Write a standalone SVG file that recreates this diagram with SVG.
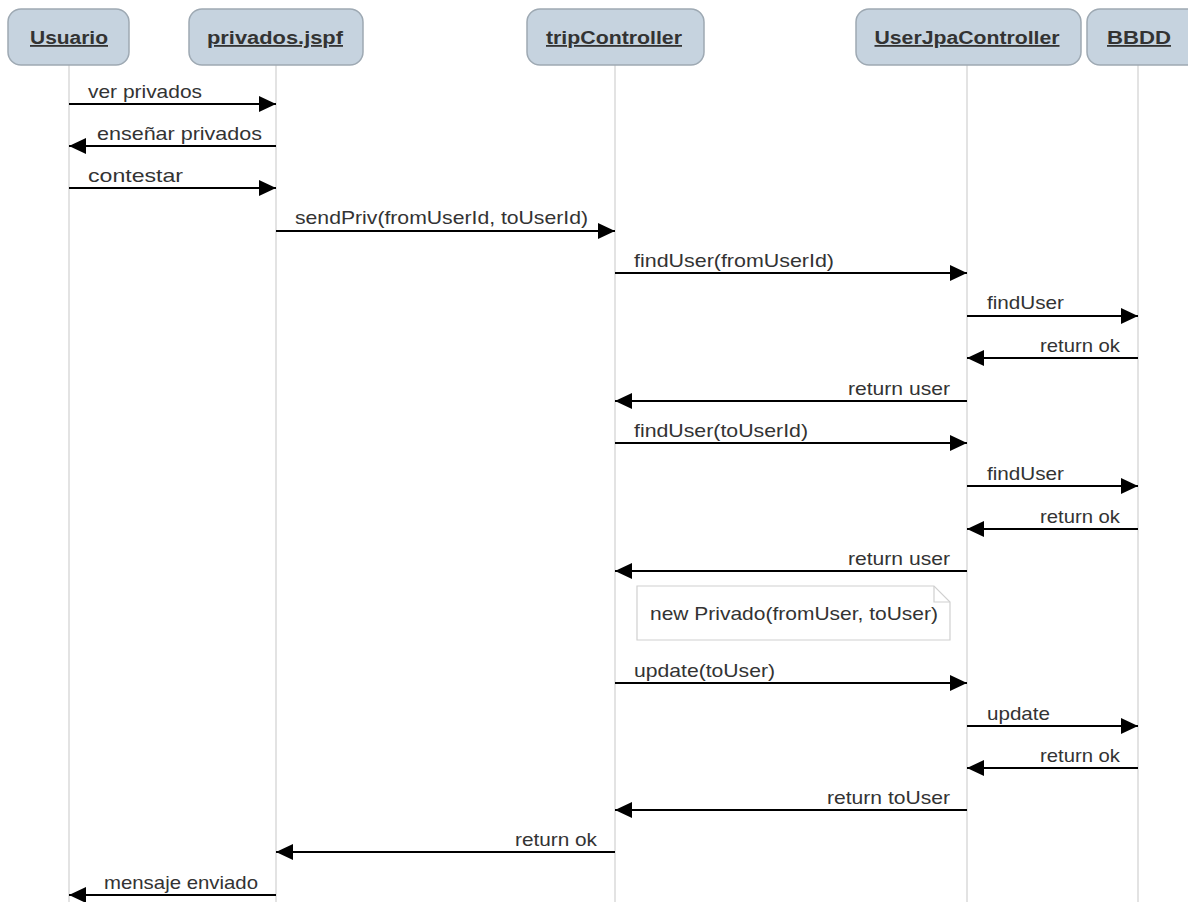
<svg xmlns="http://www.w3.org/2000/svg" width="1188" height="902" viewBox="0 0 1188 902">
<defs>
<marker id="ah" viewBox="0 0 17 16" refX="17" refY="8" markerWidth="17" markerHeight="16" markerUnits="userSpaceOnUse" orient="auto">
<path d="M0,0 L17,8 L0,16 Z" fill="#000"/>
</marker>
<style>
.hdr{fill:#c6d3df;stroke:#9ea9b3;stroke-width:1.5}
.ht{font-family:"Liberation Sans",Arial,sans-serif;font-size:18px;font-weight:bold;fill:#333;text-decoration:underline;text-anchor:middle}
.ll{stroke:#d0d0d0;stroke-width:1.2;fill:none}
.msg{stroke:#000;stroke-width:2;fill:none;marker-end:url(#ah)}
.t{font-family:"Liberation Sans",Arial,sans-serif;font-size:18.5px;fill:#333}
.r{text-anchor:end}
.note{fill:#fff;stroke:#d0d0d0;stroke-width:1.2}
</style>
</defs>
<rect width="1188" height="902" fill="#fff"/>
<g id="lifelines">
<line class="ll" x1="69" y1="65" x2="69" y2="902"/>
<line class="ll" x1="276" y1="65" x2="276" y2="902"/>
<line class="ll" x1="615" y1="65" x2="615" y2="902"/>
<line class="ll" x1="967" y1="65" x2="967" y2="902"/>
<line class="ll" x1="1138" y1="65" x2="1138" y2="902"/>
</g>
<g id="usuario"><rect class="hdr" x="8" y="9" width="121" height="56" rx="13"/><text class="ht" x="69" y="44" textLength="78" lengthAdjust="spacingAndGlyphs">Usuario</text></g>
<g id="privados"><rect class="hdr" x="189" y="9" width="174" height="56" rx="13"/><text class="ht" x="275" y="44" textLength="136" lengthAdjust="spacingAndGlyphs">privados.jspf</text></g>
<g id="tripController"><rect class="hdr" x="527" y="9" width="177" height="56" rx="13"/><text class="ht" x="614" y="44" textLength="136" lengthAdjust="spacingAndGlyphs">tripController</text></g>
<g id="userJpaController"><rect class="hdr" x="856" y="9" width="225" height="56" rx="13"/><text class="ht" x="967" y="44" textLength="185" lengthAdjust="spacingAndGlyphs">UserJpaController</text></g>
<g id="bbdd"><rect class="hdr" x="1087" y="9" width="115" height="56" rx="13"/><text class="ht" x="1139" y="44" textLength="64" lengthAdjust="spacingAndGlyphs">BBDD</text></g>
<g id="note"><path class="note" d="M637,586 H934 L950,602 V640 H637 Z"/><path d="M934,586 V602 H950" fill="none" stroke="#d0d0d0" stroke-width="1.2"/><text class="t" x="650" y="620" textLength="288" lengthAdjust="spacingAndGlyphs">new Privado(fromUser, toUser)</text></g>
<g id="connectors">
<line class="msg" x1="69" y1="104" x2="276" y2="104"/><text class="t" x="88" y="98" textLength="114" lengthAdjust="spacingAndGlyphs">ver privados</text>
<line class="msg" x1="276" y1="146" x2="69" y2="146"/><text class="t r" x="262" y="140" textLength="165" lengthAdjust="spacingAndGlyphs">enseñar privados</text>
<line class="msg" x1="69" y1="188" x2="276" y2="188"/><text class="t" x="88" y="182" textLength="95" lengthAdjust="spacingAndGlyphs">contestar</text>
<line class="msg" x1="276" y1="231" x2="615" y2="231"/><text class="t" x="295" y="224" textLength="293" lengthAdjust="spacingAndGlyphs">sendPriv(fromUserId, toUserId)</text>
<line class="msg" x1="615" y1="273" x2="967" y2="273"/><text class="t" x="634" y="267" textLength="200" lengthAdjust="spacingAndGlyphs">findUser(fromUserId)</text>
<line class="msg" x1="967" y1="316" x2="1138" y2="316"/><text class="t" x="987" y="309" textLength="77" lengthAdjust="spacingAndGlyphs">findUser</text>
<line class="msg" x1="1138" y1="358" x2="967" y2="358"/><text class="t r" x="1120" y="352" textLength="80" lengthAdjust="spacingAndGlyphs">return ok</text>
<line class="msg" x1="967" y1="401" x2="615" y2="401"/><text class="t r" x="950" y="395" textLength="102" lengthAdjust="spacingAndGlyphs">return user</text>
<line class="msg" x1="615" y1="443" x2="967" y2="443"/><text class="t" x="634" y="437" textLength="174" lengthAdjust="spacingAndGlyphs">findUser(toUserId)</text>
<line class="msg" x1="967" y1="486" x2="1138" y2="486"/><text class="t" x="987" y="480" textLength="77" lengthAdjust="spacingAndGlyphs">findUser</text>
<line class="msg" x1="1138" y1="529" x2="967" y2="529"/><text class="t r" x="1120" y="523" textLength="80" lengthAdjust="spacingAndGlyphs">return ok</text>
<line class="msg" x1="967" y1="571" x2="615" y2="571"/><text class="t r" x="950" y="565" textLength="102" lengthAdjust="spacingAndGlyphs">return user</text>
<line class="msg" x1="615" y1="683" x2="967" y2="683"/><text class="t" x="634" y="677" textLength="141" lengthAdjust="spacingAndGlyphs">update(toUser)</text>
<line class="msg" x1="967" y1="726" x2="1138" y2="726"/><text class="t" x="987" y="720" textLength="63" lengthAdjust="spacingAndGlyphs">update</text>
<line class="msg" x1="1138" y1="768" x2="967" y2="768"/><text class="t r" x="1120" y="762" textLength="80" lengthAdjust="spacingAndGlyphs">return ok</text>
<line class="msg" x1="967" y1="810" x2="615" y2="810"/><text class="t r" x="950" y="804" textLength="123" lengthAdjust="spacingAndGlyphs">return toUser</text>
<line class="msg" x1="615" y1="852" x2="276" y2="852"/><text class="t r" x="597" y="846" textLength="82" lengthAdjust="spacingAndGlyphs">return ok</text>
<line class="msg" x1="276" y1="895" x2="69" y2="895"/><text class="t r" x="258" y="889" textLength="154" lengthAdjust="spacingAndGlyphs">mensaje enviado</text>
</g>
</svg>
